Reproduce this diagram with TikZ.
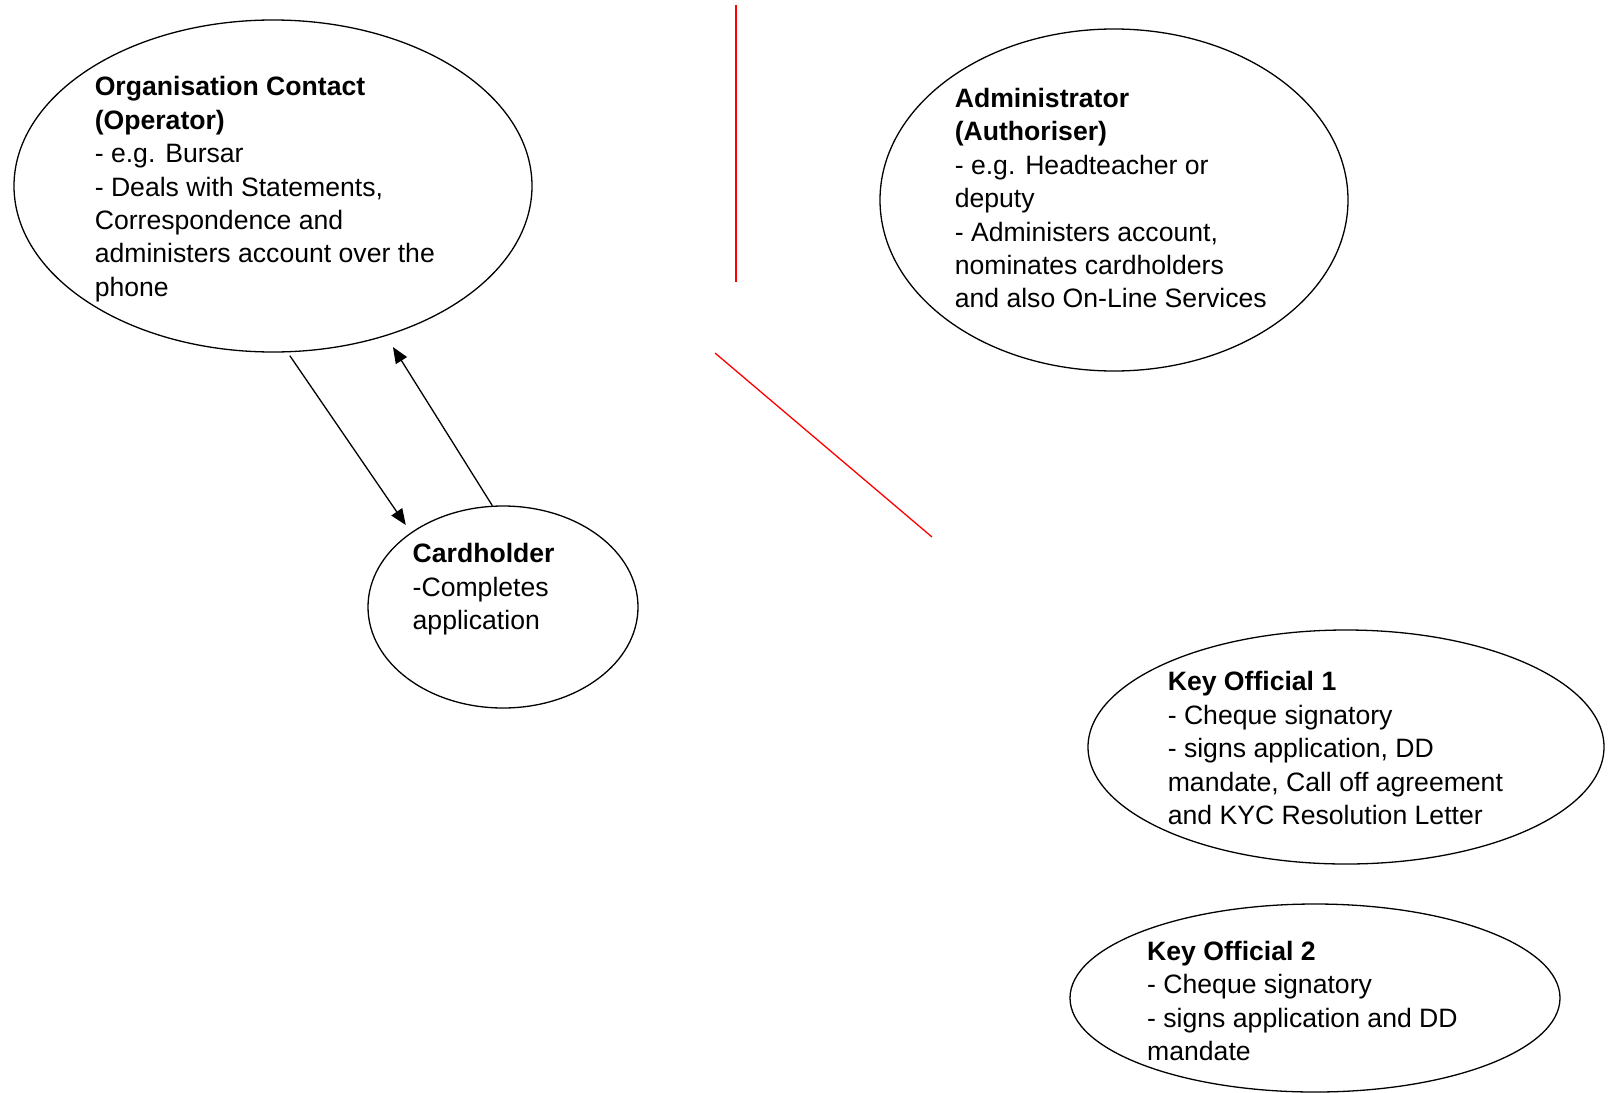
\documentclass[tikz,border=0pt]{standalone}
\usepackage{fontspec}
\setmainfont{Liberation Sans}
\usetikzlibrary{shapes.geometric,arrows.meta}
\tikzset{
  oval/.style={draw=black, line width=1.3pt, ellipse, inner sep=0pt},
  txt/.style={anchor=north west, inner sep=0pt, align=left, font=\fontsize{26.6}{33.4}\selectfont},
  arr/.style={draw=black, line width=1.3pt, -{Triangle[length=16pt,width=13pt]}},
  redline/.style={draw=red, line width=1.3pt}
}
\begin{document}
\begin{tikzpicture}[x=1pt,y=-1pt]
\useasboundingbox (0,0) rectangle (1613,1092);
% ellipses
\node[oval, minimum width=518pt, minimum height=332pt] (org) at (273,186) {};
\node[oval, minimum width=468pt, minimum height=342pt] (adm) at (1114,200) {};
\node[oval, minimum width=270pt, minimum height=202pt] (card) at (503,607) {};
\node[oval, minimum width=516pt, minimum height=234pt] (ko1) at (1346,747) {};
\node[oval, minimum width=490pt, minimum height=188pt] (ko2) at (1315,998) {};
% texts
\node[txt] (orgt) at (94.6,76.5) {\textbf{Organisation Contact}\\\textbf{(Operator)}\\- e.g. Bursar\\- Deals with Statements,\\Correspondence and\\administers account over the\\phone};
\node[txt] (admt) at (954.6,88) {\textbf{Administrator}\\\textbf{(Authoriser)}\\- e.g. Headteacher or\\deputy\\- Administers account,\\nominates cardholders\\and also On-Line Services};
\node[txt] (cardt) at (412.5,543.5) {\textbf{Cardholder}\\-Completes\\application};
\node[txt] (ko1t) at (1167.6,671.5) {\textbf{Key Official 1}\\- Cheque signatory\\- signs application, DD\\mandate, Call off agreement\\and KYC Resolution Letter};
\node[txt] (ko2t) at (1147,941) {\textbf{Key Official 2}\\- Cheque signatory\\- signs application and DD\\mandate};
% arrows
\draw[arr, shorten <=4pt, shorten >=9pt] (org.-85.3) -- (card.141);
\draw[arr, shorten >=13pt] (card.96) -- (org.-53.8);
% red lines
\coordinate (r1a) at (736,5);
\coordinate (r1b) at (736,282);
\coordinate (r2a) at (715,353);
\coordinate (r2b) at (932,537);
\draw[redline] (r1a) -- (r1b);
\draw[redline] (r2a) -- (r2b);
\end{tikzpicture}
\end{document}
